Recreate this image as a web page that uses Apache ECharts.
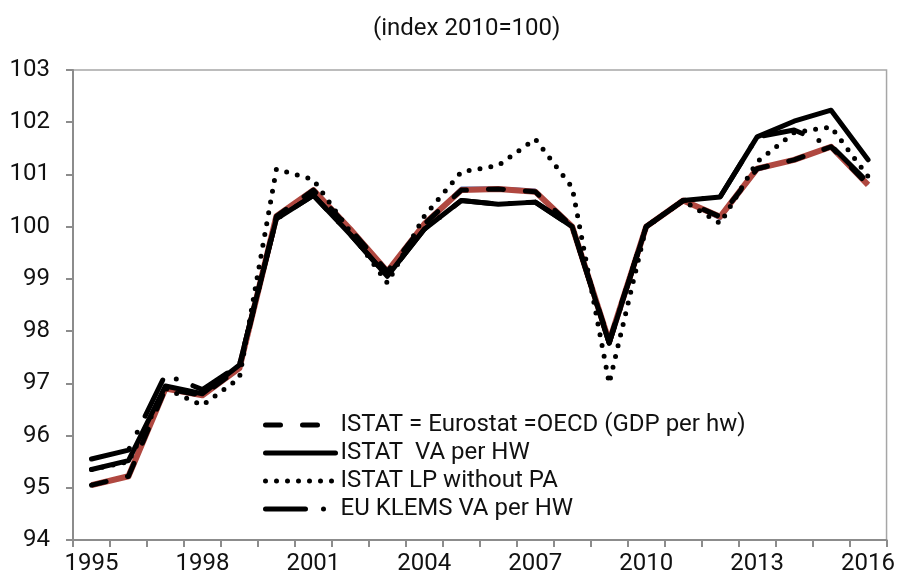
<!DOCTYPE html>
<html>
<head>
<meta charset="utf-8">
<style>
  html, body { margin: 0; padding: 0; background: #fff; }
  #chart { width: 898px; height: 578px; }
</style>
<script src="https://cdn.jsdelivr.net/npm/echarts@6/dist/echarts.min.js"></script>
</head>
<body>
<div id="chart"></div>
<script>
// years on the x axis
const years = ["1995", "1996", "1997", "1998", "1999", "2000", "2001", "2002", "2003", "2004", "2005",
  "2006", "2007", "2008", "2009", "2010", "2011", "2012", "2013", "2014", "2015", "2016"];

// ISTAT = Eurostat = OECD (GDP per hw)
const gdpPerHw = [95.05, 95.22, 96.9, 96.77, 97.29, 100.2, 100.7, 99.95, 99.14, 100.05, 100.7,
  100.72, 100.67, 100.0, 97.8, 100, 100.5, 100.19, 101.11, 101.28, 101.53, 100.8];
// same index, other sources (drawn under, no legend)
const eurostatRed = [95.05, 95.22, 96.9, 96.77, 97.29, 100.2, 100.7, 99.95, 99.14, 100.05, 100.7,
  100.72, 100.67, 100.0, 97.8, 100, 100.5, 100.19, 101.11, 101.28, 101.53, 100.8];
const oecdBlue = [95.05, 95.22, 96.9, 96.77, 97.29, 100.2, 100.7, 99.95, 99.12, 100.07, 100.75,
  100.75, 100.71, 100.0, 97.8, 100, 100.5, 100.14, 101.07, 101.27, 101.53, 100.8];
// ISTAT VA per HW
const vaPerHw = [95.35, 95.52, 96.95, 96.8, 97.35, 100.15, 100.6, 99.85, 99.05, 99.95, 100.5,
  100.43, 100.47, 100.0, 97.77, 100, 100.5, 100.57, 101.72, 102.02, 102.23, 101.28];
// ISTAT LP without PA
const lpWithoutPa = [95.35, 95.5, 96.9, 96.58, 97.1, 101.1, 100.9, 99.9, 98.92, 100.2, 101.05,
  101.17, 101.68, 100.75, 97.0, 100, 100.5, 100.06, 101.24, 101.8, 101.91, 100.96];
// EU KLEMS VA per HW
const klems = [95.55, 95.72, 97.17, 96.88, 97.35, 100.15, 100.6, 99.85, 99.05, 99.95, 100.5,
  100.43, 100.47, 100.0, 97.77, 100, 100.5, 100.57, 101.72, 101.85, 101.55, 100.85];

const names = ["ISTAT = Eurostat =OECD (GDP per hw)", "ISTAT  VA per HW", "ISTAT LP without PA", "EU KLEMS VA per HW"];

const font = "Roboto";
const chart = echarts.init(document.getElementById("chart"));

function blackLine(name, data, type, z) {
  return {
    name: name,
    type: "line",
    data: data,
    symbol: "none",
    z: z,
    color: "#000",
    lineStyle: { color: "#000", width: 5, type: type, cap: "round", join: "round" }
  };
}

const option = {
  animation: false,
  title: {
    text: "(index 2010=100)",
    left: 368,
    top: 12,
    textStyle: { fontFamily: font, fontSize: 24, fontWeight: "normal", color: "#111" }
  },
  grid: {
    left: 73,
    right: 10,
    top: 70,
    bottom: 38,
    show: true,
    borderColor: "#a6a6a6",
    borderWidth: 1.5
  },
  legend: {
    data: names,
    orient: "vertical",
    left: 258,
    top: 408,
    itemWidth: 70,
    itemHeight: 14,
    itemGap: 4,
    itemStyle: { opacity: 0 },
    lineStyle: { width: 5, cap: "round" },
    textStyle: { fontFamily: font, fontSize: 24, color: "#111" }
  },
  xAxis: {
    type: "category",
    data: years,
    boundaryGap: true,
    axisLine: { lineStyle: { color: "#8c8c8c", width: 2 } },
    axisTick: { show: true, interval: 0, length: 7, lineStyle: { color: "#8c8c8c", width: 2 } },
    axisLabel: { interval: 2, margin: 12, fontFamily: font, fontSize: 24, color: "#111" },
    splitLine: { show: false }
  },
  yAxis: {
    type: "value",
    min: 94,
    max: 103,
    interval: 1,
    axisLine: { show: true, lineStyle: { color: "#8c8c8c", width: 2 } },
    axisTick: { show: true, length: 7, lineStyle: { color: "#8c8c8c", width: 2 } },
    axisLabel: { margin: 23, fontFamily: font, fontSize: 24, color: "#111" },
    splitLine: { show: false }
  },
  series: [
    {
      name: "Eurostat",
      type: "line",
      data: eurostatRed,
      symbol: "none",
      z: 1,
      lineStyle: { color: "#b04840", width: 6, join: "round" }
    },
    {
      name: "OECD",
      type: "line",
      data: oecdBlue,
      symbol: "none",
      z: 0,
      lineStyle: { color: "#4a78c0", width: 2, join: "round" }
    },
    blackLine(names[0], gdpPerHw, [15, 22], 3),
    blackLine(names[1], vaPerHw, "solid", 4),
    blackLine(names[2], lpWithoutPa, [0, 11], 5),
    blackLine(names[3], klems, [40, 18, 0, 18], 6)
  ]
};

chart.setOption(option);
</script>
</body>
</html>
